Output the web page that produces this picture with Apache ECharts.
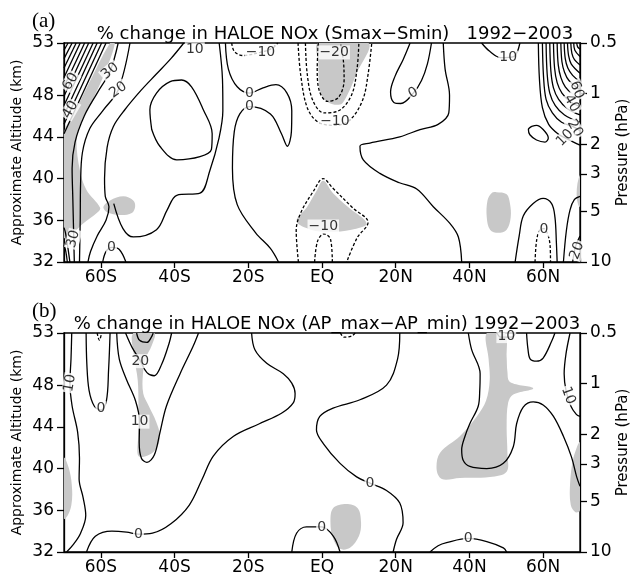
<!DOCTYPE html>
<html><head><meta charset="utf-8">
<script src="https://cdn.jsdelivr.net/npm/echarts@6/dist/echarts.min.js"></script>
<style>html,body{margin:0;padding:0;background:#fff}#c{width:631px;height:582px}</style>
</head><body><div id="c"></div>
<script>
// ---- axes ----
const latTicks = [-60, -40, -20, 0, 20, 40, 60];
const altTicks = [32, 36, 40, 44, 48, 53];
const pressTicks = [0.5, 1, 2, 3, 5, 10];
const titlesA = ['(a)', '% change in HALOE NOx (Smax\u2212Smin)   1992\u22122003'];
const titlesB = ['(b)', '% change in HALOE NOx (AP_max\u2212AP_min) 1992\u22122003'];

// ---- panel (a) contours: [level, points [lat, alt]] ----
const contoursA = [
  [40, [[-58.6,53],[-70,44.3]]],
  [45, [[-59.8,53],[-70,45.2]]],
  [50, [[-61.0,53],[-70,46.1]]],
  [55, [[-62.1,53],[-70,47.0]]],
  [60, [[-63.3,53],[-70,47.9]]],
  [65, [[-64.4,53],[-70,48.8]]],
  [70, [[-65.6,53],[-70,49.7]]],
  [75, [[-66.7,53],[-70,50.6]]],
  [80, [[-67.8,53],[-70,51.5]]],
  [85, [[-68.9,53],[-70,52.3]]],
  [30, [[-55.3,53],[-57.5,50.3],[-61,48.2],[-64.5,46],[-67,43.5],[-67.8,41],[-67.6,38],[-67.4,35],[-67.2,32]]],
  [20, [[-52.1,53],[-55.3,48.5],[-59.5,46.5],[-63,44.8],[-65,42.5],[-65.5,39.5],[-65.6,36],[-65.8,32]]],
  [10, [[-37.5,53],[-41,51.5],[-45,50],[-49,48.5],[-53.5,46.6],[-56.6,45],[-58.3,43],[-59,40],[-58.8,38.3],[-57.8,37.3],[-58.6,36],[-61,34.5],[-62.8,33],[-63.5,32]]],
  [40, [[-69.1,32],[-69.5,33],[-70,33.6]]],
  [35, [[-68.4,32],[-69,33.5],[-69.6,34.8],[-70,35.3]]],
  [0, [[-59.5,32],[-58.6,33],[-57,33.4],[-55,33.2],[-53.2,32]]],
  [0, [[-46.2,44.7],[-46.7,46.6],[-44.9,48.2],[-41.2,49.3],[-38.1,49.45],[-35.4,48.8],[-32.2,46.6],[-29.8,44.3],[-30,42.8],[-33.1,42.1],[-39.4,41.8],[-44,43.1],[-46.2,44.7]]],
  [10, [[-56.5,37.6],[-54,35.2],[-51.2,34.4],[-44.9,35.1],[-42,37],[-39.4,38.4],[-33.1,38.6],[-30.4,40.8],[-28,43.8],[-26.9,46.5],[-27,49.5],[-27.9,53]]],
  [0, [[-26.2,53],[-25.4,50.5],[-23,48.8],[-19.7,48.2],[-16,48.7],[-12.5,49],[-9.5,48.2],[-8.2,46.5],[-8.3,44.5],[-9.4,43.1],[-11,44.3],[-14,46.2],[-19.7,46.9],[-22.3,46.2],[-23.8,44.5],[-24.3,41],[-23,37.5],[-18,34.8],[-14,33.3],[-11.8,32]]],
  [-10, [[-24.5,53],[-23.8,52.2],[-21.5,51.8],[-16.8,52.1],[-13.5,52.5],[-12,53]]],
  [-20, [[-1,53],[-1.3,50.5],[-0.8,48.5],[1.5,47.4],[4.5,47.8],[6,49.5],[5.8,51.3],[5,53]]],
  [-15, [[-4.5,53],[-4,50],[-2.5,47.5],[0.5,46.3],[4.5,46.5],[8,48],[9.5,50.5],[10,53]]],
  [-10, [[-6.5,53],[-5.8,50],[-4,46.8],[-1,45.4],[3.5,45.1],[7.5,45.6],[11,47.5],[12.5,50],[13.5,53]]],
  [-10, [[-6.4,32],[-7,35],[-5.8,36.7],[-2.3,38.8],[0.3,40],[2.9,39.1],[8.3,37.2],[12.5,35.8],[9.5,34.3],[6.7,32]]],
  [-15, [[-2,32],[-1.2,34],[0.5,34.7],[2.3,34.2],[2.8,32]]],
  [0, [[23.9,53],[22,51.4],[19.8,49.8],[18.6,48.3],[19.5,47.3],[21.4,47.2],[24.8,48.2],[27,49.4],[28.6,51],[29.7,53]]],
  [10, [[32.9,53],[33.4,50.5],[34.6,48],[34.4,46.3],[31.5,45.2],[26.6,44.7],[21.1,44.0],[13,43.4],[10.3,43.1],[11.2,41.8],[15.7,40.5],[21,39.6],[25.7,39],[30.2,37.3],[34.7,35.7],[37,34.4],[37.9,32]]],
  [10, [[43.3,53],[45.5,52.2],[48.5,51.6],[52,51.7],[53.7,53]]],
  [10, [[58.7,53],[59,49.5],[59.8,46.8],[61.5,45.2],[64,44.3],[66.5,43.8],[70,43.2]]],
  [20, [[59.8,53],[60.1,49.8],[60.8,47.6],[62.5,46.3],[65,45.4],[68,45],[70,44.6]]],
  [30, [[60.8,53],[61.1,50],[61.8,48.2],[63.3,47],[65.8,46.1],[70,45.4]]],
  [40, [[61.8,53],[62.1,50.3],[62.8,48.7],[64.2,47.6],[66.6,46.7],[70,46.1]]],
  [50, [[62.8,53],[63.1,50.6],[63.8,49.2],[65.1,48.2],[67.3,47.4],[70,46.9]]],
  [60, [[63.8,53],[64.1,50.9],[64.8,49.7],[66,48.8],[68,48.1],[70,47.7]]],
  [70, [[64.8,53],[65.1,51.2],[65.8,50.2],[67,49.4],[70,48.5]]],
  [80, [[65.7,53],[66,51.5],[66.7,50.6],[68,49.9],[70,49.3]]],
  [90, [[66.6,53],[66.9,51.8],[67.6,51],[70,50.1]]],
  [100, [[67.5,53],[67.8,52],[68.5,51.4],[70,50.9]]],
  [110, [[68.3,53],[68.6,52.3],[70,51.7]]],
  [120, [[69.1,53],[69.4,52.6],[70,52.4]]],
  [0, [[56.9,45.0],[58.2,45.1],[60.0,44.7],[61.4,43.9],[60.5,43.5],[58.2,43.7],[56.4,44.2],[56,44.7],[56.9,45.0]]],
  [0, [[52.4,32],[53.5,34.5],[54.6,36.4],[57.3,37.6],[60,38.1],[62.3,37.6],[63.2,36.3],[63.6,33.8],[63.8,32]]],
  [-5, [[57.8,32],[58.2,34],[59,35],[60.2,35.2],[61.3,34.6],[61.9,33.5],[62,32]]],
  [10, [[65.5,32],[66.3,35],[67.3,37],[68.5,38],[70,38.3]]],
  [20, [[68,32],[68.8,33.5],[70,34.5]]]
];
const labelsA = [
  ['10', -34.5, 52.4, 0], ['30', -57.5, 50.3, 40], ['20', -55.3, 48.5, 35],
  ['60', -68.2, 49.3, 60], ['40', -68.3, 46.6, 60], ['30', -67.5, 34.2, 75],
  ['0', -57.1, 33.4, 0], ['\u221210', -16.7, 52.1, 0], ['\u221220', 3.3, 52.1, 0],
  ['\u221210', 3.5, 45.5, 0], ['0', -19.7, 48.2, 0], ['0', -19.7, 46.9, 0],
  ['\u221210', 0.35, 35.4, 0], ['0', 24.8, 48.2, 30], ['10', 50.5, 51.6, 0],
  ['60', 69.1, 48.5, -70], ['40', 67.7, 47.2, -60], ['20', 68.6, 44.8, -60],
  ['10', 65.9, 43.9, 45], ['0', 60.2, 35.1, 0], ['20', 69.2, 33.1, 70]
];
const shadesA = [
  [[-57.5,53],[-56.2,53],[-58.5,50.5],[-62,47.7],[-65.5,45.3],[-66.6,43.7],[-65.7,40.8],[-63.9,38.9],[-60.2,37.2],[-61.1,36.7],[-64.8,35.7],[-67.5,34.8],[-69.3,34.4],[-70,34.3],[-70,44.3],[-67,46.4],[-63,49.3]],
  [[-59.3,37.3],[-57.5,37.9],[-53.9,38.3],[-51.2,37.9],[-50.7,37.3],[-51.6,36.7],[-54.8,36.5],[-58.4,36.8]],
  [[-1,53],[12.6,53],[9.4,50.1],[6.7,47.9],[4.9,47.1],[1.3,47.4],[-0.6,48.5],[-1,51]],
  [[0.35,39.8],[3,38.6],[7,37.3],[12.1,35.7],[8,35.1],[2,34.9],[-3,35.1],[-6.9,35.9],[-4,37.3],[-1.5,38.8]],
  [[47.3,38.7],[50.1,38.5],[51,37.6],[51.2,36.3],[50.1,35.1],[47.8,34.8],[45.6,35.1],[44.7,36.3],[44.9,37.9],[46,38.6]],
  [[70,40.3],[69.3,39.5],[69.1,38.3],[69.5,37.5],[70,37.3]]
];

// ---- panel (b) ----
const contoursB = [
  [10, [[-67.9,53],[-68.1,50.5],[-68.4,48.2],[-67.8,46],[-66.3,43.5],[-65.8,41],[-65.9,39],[-64.8,37.2],[-64.1,35.5],[-65.5,33.8],[-67.5,32.7],[-69.3,32]]],
  [0, [[-64,53],[-63.8,50],[-63.2,47.5],[-61.8,46],[-60,45.6],[-58.5,46.5],[-57.9,49.5],[-57.5,53]]],
  [-5, [[-61,53],[-60.4,52.3],[-59.8,53]]],
  [30, [[-50.3,53],[-49.5,52.3],[-47.5,52.1],[-46.3,52.6],[-45.8,53]]],
  [20, [[-53.3,53],[-51.5,51.6],[-49.4,50.4],[-47.5,49.2],[-45.5,48.9],[-43.5,50],[-41.5,52],[-40.8,53]]],
  [10, [[-55.7,53],[-55,50.5],[-53,48.5],[-50.6,46.5],[-49.5,44.5],[-49.6,42.5],[-49,41],[-47.5,40.6],[-45.5,41.3],[-44,43.4],[-42.2,46],[-38.5,49.1],[-35,51.7],[-33.5,53]]],
  [0, [[-63.9,32],[-61.5,33.5],[-57,34],[-53,33.9],[-49.8,33.7],[-46,33.8],[-41,34.7],[-36,36.5],[-32.5,39.0],[-29.5,41.2],[-24,43.1],[-17,44.3],[-11,45.3],[-7.8,46.3],[-7.3,47.2],[-8.2,48.2],[-10.5,49.1],[-15,50.1],[-18.2,51.4],[-19.1,53]]],
  [0, [[21.1,53],[20.5,50.5],[17.5,48],[10.3,46.6],[3,45.8],[-0.6,45],[-1.5,43.7],[0.35,42.4],[4.9,40.5],[9.4,39.2],[13,38.6],[17.5,37.9],[21.1,36.7],[22,34.8],[20.2,33.2],[19.3,32]]],
  [0, [[-8.2,32],[-6.9,33.8],[-4.2,34.4],[-0.1,34.4],[3.1,33.5],[4.9,32]]],
  [-5, [[5,53],[6,52.6],[8,52.7],[9,53]]],
  [0, [[39.7,53],[40.6,51.4],[42.9,49.1],[42.8,47.5],[42.4,46],[40.1,44.3],[38.8,43.1],[37.9,41.8],[38.3,40.8],[40.1,40.2],[44.7,40],[49.2,40.5],[51.9,42.1],[52.8,44.3],[54.6,45.9],[57.3,46.4],[60,46.1],[62.8,45],[65.5,43.1],[67.7,41.1],[69.1,39.2],[70,38.3]]],
  [10, [[55.5,53],[55.9,51.4],[56.5,50.5],[58.2,50.3],[60,50.6],[62.3,52.2],[63.2,53]]],
  [10, [[47.5,53],[48.5,52.6],[51.5,52.6],[52.5,53]]],
  [10, [[67.3,53],[66.2,51],[65.7,49.1],[66.2,47.5],[67.5,46],[69,45.2],[70,45]]],
  [0, [[29.3,32],[31.5,32.6],[33.8,32.9],[39.7,33.3],[44.7,33.0],[49.2,32.4],[50.1,32]]]
];
const labelsB = [
  ['10', -68.4, 48.2, 80], ['0', -60, 45.8, 0], ['20', -49.3, 50.3, 0], ['10', -49.5, 44.5, 0],
  ['0', -49.8, 33.7, 0], ['0', 13, 38.6, 0], ['0', -0.1, 34.4, 0], ['0', 39.7, 33.3, 0],
  ['10', 50, 52.7, 0], ['10', 66.8, 47, -70]
];
const shadesB = [
  [[-70,41],[-68.5,39.8],[-67.8,38],[-68,36.5],[-69,35.5],[-70,35.2]],
  [[-51.2,53],[-45.5,53],[-46.2,51.8],[-47.8,50.6],[-48.6,49],[-48.5,47.2],[-47,46],[-45,44.5],[-44,43.2],[-44.8,42],[-47,41.3],[-49.8,41.2],[-49.9,43],[-49.8,46],[-50,48.5],[-51,50.8]],
  [[3,36.2],[6.6,36.6],[9.7,36.2],[10.6,34.8],[10,33.5],[7.6,32.4],[4.9,32.3],[3,33.3],[2.3,34.8]],
  [[44.7,53],[49.6,53],[50.1,50.7],[50.3,49.3],[51,48.3],[57.3,47.7],[51.9,47.1],[50.5,46.3],[50.1,44],[50.3,41.5],[50.1,39.7],[45.6,39.2],[37.4,39.1],[32.5,39.0],[31.1,39.9],[32,41.5],[37.4,43.1],[42,45],[44.5,46.5],[45.5,48.5],[45.2,50.5]],
  [[70,42.5],[68.2,41],[67.3,38.5],[67.5,36.5],[68.8,35.8],[70,36]]
];

// ---- build ----
const FONT = 'DejaVu Sans';
const pressAlt = pressTicks.map(p => 32 + 21 * Math.log(10 / p) / Math.log(20));
const latFmt = v => v < 0 ? (-v) + 'S' : (v === 0 ? 'EQ' : v + 'N');
const grids = [{top: 43, height: 219}, {top: 333, height: 219}].map(g => ({
  left: 64, width: 516, top: g.top, height: g.height, show: true, containLabel: false,
  outerBoundsMode: 'none',
  borderColor: '#000', borderWidth: 1.3, backgroundColor: 'rgba(0,0,0,0)'
}));
const xAxes = [0, 1].map(i => ({
  gridIndex: i, type: 'value', min: -70, max: 70,
  axisLine: {show: true, onZero: false, lineStyle: {color: '#000', width: 1.3}},
  axisTick: {show: true, length: 6, customValues: latTicks, lineStyle: {color: '#000', width: 1.3}},
  axisLabel: {customValues: latTicks, formatter: latFmt, color: '#000', fontSize: 17, fontFamily: FONT, margin: 7},
  splitLine: {show: false}
}));
const yAxes = [];
[0, 1].forEach(i => {
  yAxes.push({
    gridIndex: i, type: 'value', min: 32, max: 53, position: 'left',
    name: 'Approximate Altitude (km)', nameLocation: 'middle', nameGap: 40, nameRotate: 90,
    nameMoveOverlap: false,
    nameTextStyle: {fontSize: 14, fontFamily: FONT, color: '#000'},
    axisLine: {show: true, onZero: false, lineStyle: {color: '#000', width: 1.3}},
    axisTick: {show: true, length: 7, customValues: altTicks, lineStyle: {color: '#000', width: 1.3}},
    axisLabel: {customValues: altTicks, color: '#000', fontSize: 17, fontFamily: FONT, margin: 10},
    splitLine: {show: false}
  });
  yAxes.push({
    gridIndex: i, type: 'value', min: 32, max: 53, position: 'right',
    name: 'Pressure (hPa)', nameLocation: 'middle', nameGap: 36, nameRotate: 90,
    nameMoveOverlap: false,
    nameTextStyle: {fontSize: 15, fontFamily: FONT, color: '#000'},
    axisLine: {show: true, onZero: false, lineStyle: {color: '#000', width: 1.3}},
    axisTick: {show: true, length: 7, customValues: pressAlt, lineStyle: {color: '#000', width: 1.3}},
    axisLabel: {customValues: pressAlt, color: '#000', fontSize: 17, fontFamily: FONT, margin: 10,
      formatter: v => { let best = 0; pressAlt.forEach((a, k) => { if (Math.abs(a - v) < Math.abs(pressAlt[best] - v)) best = k; }); return String(pressTicks[best]); }},
    splitLine: {show: false}
  });
});

const series = [];
function addPanel(i, contours, labels, shades) {
  series.push({
    type: 'custom', xAxisIndex: i, yAxisIndex: i * 2, clip: true, z: 1, silent: true,
    data: shades.map((s, k) => [s[0][0], s[0][1], k]),
    renderItem: (params, api) => {
      const poly = shades[api.value(2)];
      return {type: 'polygon', shape: {points: poly.map(p => api.coord(p)), smooth: 0.35},
        style: {fill: '#c8c8c8'}};
    }
  });
  contours.forEach(c => {
    series.push({
      type: 'line', xAxisIndex: i, yAxisIndex: i * 2, data: c[1], showSymbol: false,
      smooth: c[1].length > 2 ? 0.35 : false, silent: true, z: 3, clip: true,
      lineStyle: {color: '#000', width: 1.3, type: c[0] < 0 ? [3, 2] : 'solid'}
    });
  });
  series.push({
    type: 'scatter', xAxisIndex: i, yAxisIndex: i * 2, symbolSize: 1, z: 5, silent: true,
    itemStyle: {color: 'rgba(0,0,0,0)'},
    data: labels.map(l => ({name: l[0], value: [l[1], l[2]], label: {rotate: l[3]}})),
    label: {show: true, position: 'inside', formatter: '{b}', color: '#000', fontSize: 14,
      fontFamily: FONT, backgroundColor: '#fff', padding: [0, 1]}
  });
}
addPanel(0, contoursA, labelsA, shadesA);
addPanel(1, contoursB, labelsB, shadesB);

const titles = [];
[[titlesA, 0, 330], [titlesB, 290, 322]].forEach(([t, off, cx]) => {
  titles.push({text: t[0], left: 27, top: 6 + off, textStyle: {fontFamily: 'Liberation Serif', fontSize: 21, fontWeight: 'normal', color: '#000'}});
  titles.push({text: t[1], left: cx, textAlign: 'center', top: 20 + off, textStyle: {fontFamily: FONT, fontSize: 18, fontWeight: 'normal', color: '#000'}});
});

const chart = echarts.init(document.getElementById('c'), null, {renderer: 'canvas'});
chart.setOption({animation: false, backgroundColor: '#fff', title: titles, grid: grids, xAxis: xAxes, yAxis: yAxes, series: series});
</script></body></html>
